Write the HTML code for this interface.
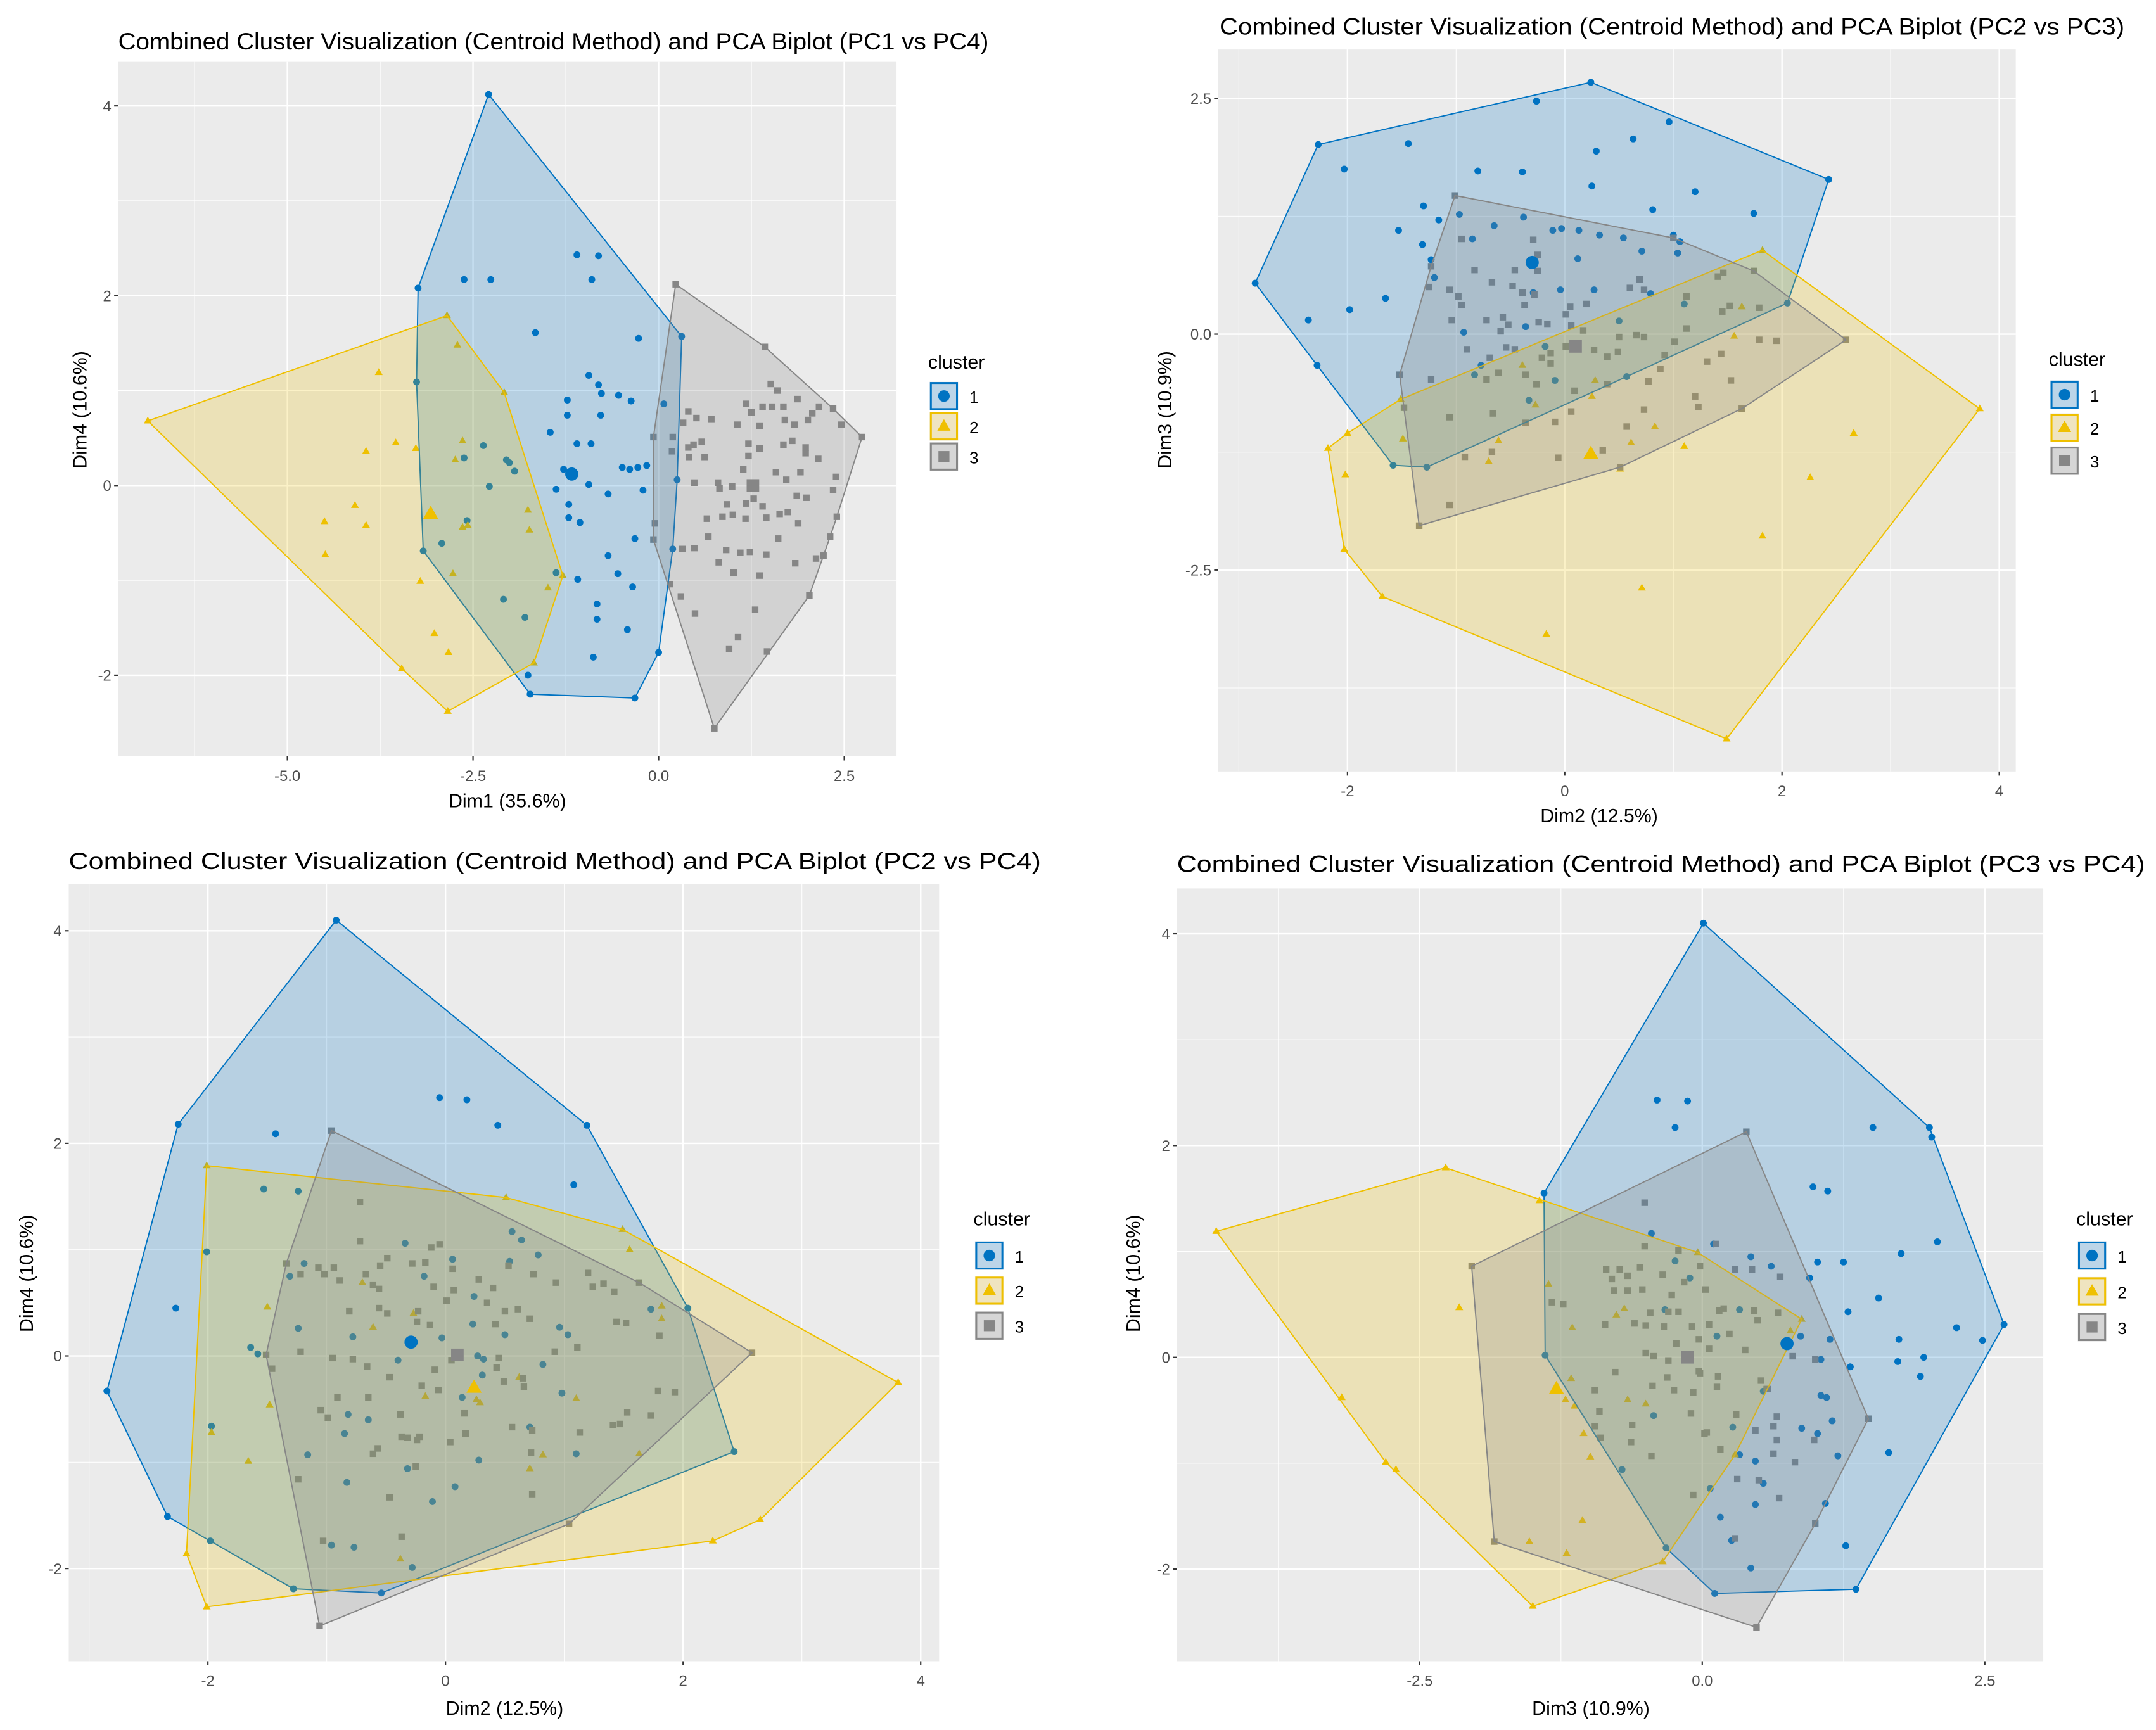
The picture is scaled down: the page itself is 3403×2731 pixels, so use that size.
<!DOCTYPE html>
<html><head><meta charset="utf-8"><style>
html,body{margin:0;padding:0;background:#fff;}
svg{display:block;font-family:"Liberation Sans",Arial,sans-serif;}
</style></head><body>
<svg id="chart" width="3403" height="2731" viewBox="0 0 1568 1258" preserveAspectRatio="none" xmlns="http://www.w3.org/2000/svg"></svg>
<script>
// ---------- Panel 1: PC1 vs PC4 ----------
const p1Titles = ["Combined Cluster Visualization (Centroid Method) and PCA Biplot (PC1 vs PC4)"];
const p1XTicks = [-5, -2.5, 0, 2.5];
const p1XTickLabels = ["-5.0", "-2.5", "0.0", "2.5"];
const p1YTicks = [-2, 0, 2, 4];
const p1YTickLabels = ["-2", "0", "2", "4"];
const p1Blue = [[-2.29,4.12],[-3.24,2.08],[-2.62,2.17],[-2.26,2.17],[-1.10,2.43],[-0.81,2.42],[-0.90,2.17],[-1.66,1.61],[-0.27,1.55],[0.31,1.57],[-0.94,1.16],[-0.81,1.06],[-0.77,0.97],[-1.23,0.90],[-0.54,0.95],[-0.37,0.89],[0.07,0.86],[-1.23,0.74],[-0.78,0.74],[-3.26,1.09],[-1.46,0.56],[-1.10,0.44],[-0.91,0.44],[-2.36,0.42],[-2.62,0.29],[-2.05,0.27],[-2.01,0.24],[-1.94,0.15],[-1.28,0.17],[-0.49,0.19],[-0.39,0.17],[-0.28,0.19],[-0.16,0.21],[-0.94,0.01],[0.25,0.06],[-2.28,-0.01],[-1.38,-0.04],[-0.68,-0.09],[-0.21,-0.05],[-1.21,-0.20],[-1.21,-0.34],[-1.06,-0.39],[-2.58,-0.37],[-0.32,-0.56],[0.19,-0.67],[-3.17,-0.69],[-2.92,-0.61],[-0.68,-0.74],[-1.38,-0.92],[-0.55,-0.93],[-1.09,-0.99],[-0.35,-1.07],[-2.09,-1.20],[-0.83,-1.25],[-1.80,-1.39],[-0.83,-1.41],[-0.42,-1.52],[0.00,-1.76],[-0.88,-1.81],[-1.76,-2.00],[-1.73,-2.20],[-0.32,-2.24]];
const p1Yellow = [[-6.88,0.68],[-2.85,1.79],[-2.71,1.48],[-3.77,1.19],[-2.08,0.98],[-2.64,0.47],[-3.54,0.45],[-3.27,0.39],[-3.94,0.36],[-2.74,0.27],[-4.09,-0.21],[-4.50,-0.38],[-3.94,-0.42],[-1.76,-0.26],[-2.64,-0.44],[-2.57,-0.42],[-1.74,-0.47],[-4.49,-0.73],[-2.77,-0.93],[-1.29,-0.95],[-3.21,-1.01],[-1.49,-1.08],[-3.02,-1.56],[-2.83,-1.76],[-1.68,-1.87],[-3.46,-1.93],[-2.84,-2.38]];
const p1Gray = [[0.75,-2.56],[1.46,-1.75],[0.95,-1.72],[1.07,-1.60],[0.49,-1.35],[1.30,-1.31],[2.03,-1.16],[0.30,-1.17],[0.15,-1.04],[1.36,-0.95],[1.01,-0.92],[2.12,-0.77],[2.22,-0.74],[1.84,-0.82],[0.81,-0.81],[1.45,-0.73],[1.23,-0.70],[1.10,-0.71],[0.91,-0.68],[0.48,-0.66],[0.32,-0.67],[0.67,-0.54],[1.61,-0.56],[2.31,-0.54],[-0.05,-0.40],[1.88,-0.40],[0.65,-0.35],[0.86,-0.33],[1.17,-0.35],[1.45,-0.34],[2.40,-0.33],[1.74,-0.28],[1.63,-0.30],[1.00,-0.31],[1.40,-0.22],[0.92,-0.20],[1.18,-0.19],[1.28,-0.14],[1.99,-0.13],[1.86,-0.11],[2.35,-0.05],[1.27,-0.02],[0.80,0.03],[0.99,-0.01],[0.48,0.03],[0.82,-0.03],[1.58,0.14],[1.72,0.06],[2.39,0.09],[1.14,0.17],[1.91,0.14],[0.62,0.30],[0.41,0.30],[1.21,0.31],[1.98,0.34],[2.15,0.28],[1.36,0.39],[0.40,0.40],[0.47,0.43],[0.58,0.46],[1.21,0.44],[1.68,0.43],[1.80,0.47],[1.98,0.40],[0.18,0.36],[-0.07,0.51],[0.19,0.51],[1.06,0.64],[1.36,0.63],[1.70,0.69],[1.83,0.64],[2.46,0.64],[0.33,0.66],[0.51,0.71],[0.71,0.70],[0.40,0.78],[2.01,0.69],[2.07,0.76],[2.16,0.83],[2.35,0.81],[1.18,0.86],[1.40,0.83],[1.53,0.83],[1.25,0.77],[1.68,0.83],[1.87,0.91],[1.51,1.07],[1.60,1.00],[0.23,2.12],[1.43,1.46],[2.74,0.51],[-0.07,-0.57]];
const p1Centroids = [[-1.17,0.12],[-3.07,-0.30],[1.27,0.00]];

// ---------- Panel 2: PC2 vs PC3 ----------
const p2Titles = ["Combined Cluster Visualization (Centroid Method) and PCA Biplot (PC2 vs PC3)"];
const p2XTicks = [-2, 0, 2, 4];
const p2XTickLabels = ["-2", "0", "2", "4"];
const p2YTicks = [-2.5, 0, 2.5];
const p2YTickLabels = ["-2.5", "0.0", "2.5"];
const p2Blue = [[0.24,2.67],[-0.26,2.47],[-2.27,2.01],[-1.44,2.02],[0.96,2.25],[0.63,2.07],[0.29,1.94],[2.43,1.64],[-2.03,1.75],[-0.80,1.73],[-0.39,1.72],[0.25,1.57],[1.20,1.51],[-1.30,1.36],[0.81,1.32],[1.74,1.28],[-1.16,1.21],[-0.97,1.27],[-0.38,1.24],[-0.65,1.15],[-1.53,1.10],[-0.11,1.10],[-0.03,1.12],[0.13,1.10],[0.32,1.05],[0.54,1.02],[1.00,1.05],[-0.85,1.01],[-1.31,0.95],[1.06,0.98],[0.71,0.88],[1.04,0.86],[-1.23,0.79],[0.12,0.80],[-2.85,0.54],[-1.20,0.60],[-0.04,0.47],[0.27,0.47],[-0.29,0.44],[0.79,0.43],[-1.65,0.38],[-1.98,0.26],[1.10,0.32],[-2.36,0.15],[0.50,0.14],[-0.93,0.02],[-0.36,0.08],[-2.28,-0.33],[-0.77,-0.33],[-0.18,-0.13],[-0.83,-0.43],[-0.09,-0.49],[0.57,-0.45],[-0.33,-0.70],[-1.58,-1.39],[-1.27,-1.41],[2.05,0.33]];
const p2Yellow = [[1.82,0.89],[3.82,-0.79],[1.49,-4.29],[-1.68,-2.78],[-2.03,-2.28],[-2.18,-1.21],[-2.00,-1.05],[-2.02,-1.49],[-1.51,-0.69],[-1.49,-1.11],[1.63,0.29],[1.56,-0.02],[-0.39,-0.33],[0.28,-0.49],[0.25,-0.66],[-0.27,-0.75],[0.83,-0.98],[0.61,-1.15],[1.10,-1.19],[-0.61,-1.13],[-0.70,-1.35],[0.51,-1.43],[2.66,-1.05],[2.26,-1.52],[1.82,-2.14],[0.71,-2.69],[-0.17,-3.18]];
const p2Gray = [[-1.01,1.47],[1.00,1.02],[2.59,-0.06],[1.63,-0.79],[0.51,-1.41],[-1.34,-2.03],[-1.52,-0.43],[-1.48,-0.78],[-0.95,1.01],[-0.29,1.00],[-0.25,0.84],[-1.23,0.72],[-0.83,0.68],[-0.46,0.68],[-0.25,0.67],[-1.06,0.47],[-1.25,0.50],[-0.98,0.40],[-0.67,0.55],[-0.48,0.51],[-0.39,0.44],[-0.28,0.42],[-0.95,0.31],[-0.37,0.31],[0.05,0.29],[0.20,0.32],[0.01,0.21],[-1.04,0.15],[-0.72,0.15],[-0.57,0.18],[-0.52,0.10],[-0.24,0.13],[-0.16,0.11],[0.06,0.09],[-0.59,0.03],[-0.90,-0.16],[-0.54,-0.14],[-0.46,-0.16],[-0.69,-0.25],[-0.21,-0.25],[-0.13,-0.20],[-0.13,-0.31],[0.01,-0.13],[0.17,0.04],[0.27,-0.17],[0.39,-0.24],[0.49,-0.19],[0.50,-0.03],[0.60,0.49],[0.69,0.58],[0.73,0.47],[1.12,0.40],[1.12,0.06],[1.01,-0.08],[0.92,-0.22],[0.88,-0.37],[0.73,-0.03],[0.66,-0.01],[1.45,0.24],[1.52,0.30],[1.41,0.61],[1.46,0.65],[1.79,0.28],[1.79,-0.06],[1.95,-0.07],[1.44,-0.21],[1.31,-0.29],[1.53,-0.49],[1.20,-0.66],[1.23,-0.77],[0.73,-0.80],[0.77,-0.50],[0.57,-0.98],[0.39,-0.53],[0.09,-0.60],[0.06,-0.82],[-0.09,-0.93],[-0.06,-1.31],[0.35,-1.23],[-0.36,-0.94],[-0.66,-0.84],[-0.36,-0.43],[-0.26,-0.53],[-0.72,-0.48],[-0.61,-0.41],[-1.06,-0.88],[-1.23,-0.48],[-0.67,-1.25],[-0.92,-1.30],[-1.06,-1.81],[1.74,0.67]];
const p2Centroids = [[-0.30,0.76],[0.24,-1.27],[0.10,-0.13]];

// ---------- Panel 3: PC2 vs PC4 ----------
const p3Titles = ["Combined Cluster Visualization (Centroid Method) and PCA Biplot (PC2 vs PC4)"];
const p3XTicks = [-2, 0, 2, 4];
const p3XTickLabels = ["-2", "0", "2", "4"];
const p3YTicks = [-2, 0, 2, 4];
const p3YTickLabels = ["-2", "0", "2", "4"];
const p3Blue = [[-0.92,4.10],[-2.25,2.18],[-1.43,2.09],[-0.05,2.43],[0.18,2.41],[0.44,2.17],[1.19,2.17],[1.08,1.61],[-1.53,1.57],[-1.24,1.55],[0.56,1.17],[0.64,1.09],[-0.34,1.06],[-2.01,0.98],[0.06,0.91],[0.54,0.89],[0.78,0.95],[-1.19,0.87],[-1.31,0.75],[-0.18,0.75],[0.24,0.56],[1.73,0.44],[2.04,0.45],[-2.27,0.45],[-1.24,0.26],[0.23,0.30],[0.96,0.27],[1.03,0.20],[-0.78,0.18],[-0.03,0.17],[0.50,0.20],[-1.64,0.08],[-1.58,0.02],[0.27,0.00],[0.32,-0.03],[-0.40,-0.04],[0.82,-0.08],[0.31,-0.18],[0.14,-0.39],[0.98,-0.35],[-0.82,-0.55],[-0.65,-0.60],[-1.97,-0.66],[0.71,-0.67],[-0.85,-0.73],[-1.16,-0.93],[1.10,-0.92],[0.28,-0.98],[-0.32,-1.06],[-0.83,-1.19],[0.08,-1.23],[-0.11,-1.37],[2.43,-0.90],[-2.34,-1.51],[-1.98,-1.74],[-0.96,-1.78],[-0.77,-1.80],[-0.28,-1.99],[-1.28,-2.19],[-0.54,-2.23],[-2.85,-0.33]];
const p3Yellow = [[-2.01,1.79],[0.51,1.49],[1.49,1.19],[1.55,1.00],[3.81,-0.25],[2.65,-1.54],[2.25,-1.74],[-2.01,-2.36],[-2.18,-1.86],[-1.97,-0.72],[-1.66,-0.99],[-1.50,0.46],[-1.48,-0.46],[-0.70,0.69],[-0.61,0.27],[-0.27,0.40],[-0.17,-0.38],[0.62,-0.20],[0.26,-0.41],[0.29,-0.44],[1.82,0.47],[1.82,0.35],[1.10,-0.40],[0.82,-0.93],[0.71,-1.06],[1.63,-0.92],[-0.38,-1.91]];
const p3Gray = [[-0.96,2.12],[2.58,0.03],[1.04,-1.58],[-1.06,-2.54],[-1.51,0.01],[-1.46,-0.12],[-0.72,1.45],[-0.72,1.08],[-0.49,0.92],[-0.28,0.87],[-0.17,0.88],[-0.05,1.05],[-0.12,1.02],[0.06,0.82],[-1.34,0.87],[-1.22,0.77],[-1.07,0.83],[-0.94,0.83],[-1.02,0.77],[-0.89,0.71],[-0.67,0.77],[-0.55,0.85],[-0.61,0.67],[-0.56,0.63],[-0.10,0.65],[0.01,0.52],[0.07,0.62],[0.28,0.72],[0.40,0.64],[0.53,0.85],[0.74,0.77],[0.93,0.69],[1.20,0.78],[1.24,0.65],[1.33,0.68],[1.42,0.60],[1.63,0.69],[-0.81,0.42],[-0.56,0.45],[-0.49,0.40],[-0.23,0.42],[-0.24,0.32],[-0.13,0.29],[0.42,0.30],[0.61,0.44],[0.71,0.35],[0.35,0.50],[0.50,0.42],[1.44,0.32],[1.52,0.31],[1.80,0.19],[0.92,0.04],[1.11,0.08],[-1.22,0.04],[-0.95,-0.02],[-0.78,-0.03],[-0.66,-0.10],[-0.47,-0.20],[-0.09,-0.13],[0.05,-0.04],[0.45,-0.02],[0.49,-0.24],[0.65,-0.21],[0.66,-0.29],[0.43,-0.11],[-0.20,-0.28],[-0.06,-0.32],[-0.91,-0.39],[-0.65,-0.39],[-1.05,-0.51],[-0.99,-0.58],[-0.38,-0.55],[-0.37,-0.76],[-0.32,-0.77],[-0.24,-0.79],[-0.22,-0.76],[0.16,-0.54],[0.17,-0.73],[0.04,-0.81],[0.56,-0.67],[0.73,-0.70],[1.13,-0.72],[0.72,-0.91],[0.73,-1.30],[1.41,-0.65],[1.47,-0.64],[1.53,-0.53],[1.73,-0.56],[1.79,-0.33],[1.93,-0.34],[-0.25,-1.04],[-0.47,-1.33],[-0.37,-1.70],[-1.03,-1.74],[-1.24,-1.16],[-0.61,-0.92],[-0.57,-0.87]];
const p3Centroids = [[-0.29,0.13],[0.24,-0.30],[0.10,0.01]];

// ---------- Panel 4: PC3 vs PC4 ----------
const p4Titles = ["Combined Cluster Visualization (Centroid Method) and PCA Biplot (PC3 vs PC4)"];
const p4XTicks = [-2.5, 0, 2.5];
const p4XTickLabels = ["-2.5", "0.0", "2.5"];
const p4YTicks = [-2, 0, 2, 4];
const p4YTickLabels = ["-2", "0", "2", "4"];
const p4Blue = [[0.01,4.10],[-1.40,1.55],[-0.40,2.43],[-0.13,2.42],[-0.24,2.17],[1.51,2.17],[2.01,2.17],[2.03,2.08],[0.98,1.61],[1.11,1.57],[-0.45,1.17],[0.10,1.07],[2.08,1.09],[0.43,0.95],[1.76,0.98],[1.02,0.90],[1.25,0.90],[0.61,0.86],[-0.24,0.91],[-0.11,0.75],[0.95,0.75],[1.56,0.56],[-0.33,0.45],[0.33,0.45],[1.29,0.43],[2.67,0.31],[2.25,0.28],[2.48,0.16],[0.13,0.20],[0.87,0.20],[1.13,0.17],[1.74,0.17],[-1.39,0.02],[1.05,-0.02],[1.73,-0.04],[1.96,0.00],[1.31,-0.09],[1.93,-0.18],[0.54,-0.32],[1.05,-0.36],[1.10,-0.38],[-0.43,-0.55],[1.15,-0.60],[0.27,-0.66],[0.88,-0.67],[1.02,-0.72],[0.33,-0.92],[1.20,-0.93],[1.65,-0.90],[0.47,-0.98],[-0.71,-1.06],[0.07,-1.24],[0.54,-1.19],[1.09,-1.38],[0.47,-1.39],[0.16,-1.51],[0.26,-1.73],[1.27,-1.78],[-0.32,-1.80],[0.43,-1.99],[0.11,-2.23],[1.36,-2.19]];
const p4Yellow = [[-2.27,1.79],[-1.44,1.48],[-4.30,1.19],[-0.04,0.99],[0.88,0.36],[-1.36,0.69],[-0.69,0.46],[-0.76,0.40],[-2.15,0.47],[-1.15,0.28],[0.78,0.25],[-1.16,-0.20],[-1.21,-0.40],[-0.66,-0.40],[-0.50,-0.44],[-1.13,-0.46],[-3.19,-0.38],[-1.05,-0.72],[-0.99,-0.94],[-2.80,-0.99],[-2.71,-1.06],[-1.06,-1.54],[-1.53,-1.74],[-1.20,-1.85],[-0.35,-1.93],[-1.50,-2.35],[0.29,-0.92]];
const p4Gray = [[0.39,2.13],[-0.51,1.46],[-2.04,0.86],[1.47,-0.58],[0.48,-2.55],[-1.84,-1.74],[-0.51,1.05],[-0.21,1.01],[0.12,1.07],[0.29,0.83],[0.44,0.83],[0.69,0.76],[-0.85,0.83],[-0.73,0.83],[-0.55,0.85],[-0.02,0.86],[-0.80,0.74],[-0.66,0.77],[-0.35,0.78],[-0.16,0.71],[0.03,0.64],[-0.78,0.63],[-0.66,0.63],[-0.53,0.64],[-0.27,0.59],[-1.33,0.52],[-1.23,0.50],[-0.86,0.31],[-0.60,0.32],[-0.46,0.42],[-0.30,0.43],[-0.21,0.43],[0.15,0.44],[0.19,0.46],[0.46,0.44],[0.49,0.35],[0.67,0.42],[-0.50,0.30],[-0.34,0.29],[-0.09,0.29],[0.06,0.31],[0.24,0.22],[-0.03,0.17],[-0.23,0.13],[0.06,0.08],[0.38,0.07],[-0.50,0.04],[-0.43,0.01],[-0.30,-0.03],[-0.03,-0.13],[-0.77,-0.14],[-0.02,-0.15],[-0.31,-0.19],[0.14,-0.18],[-0.44,-0.27],[-0.95,-0.31],[-0.25,-0.31],[-0.08,-0.33],[0.13,-0.28],[0.52,-0.22],[0.58,-0.30],[-0.95,-0.65],[-0.91,-0.51],[-0.90,-0.76],[-0.63,-0.80],[-0.45,-0.93],[-0.10,-0.53],[0.02,-0.72],[0.04,-0.71],[0.16,-0.87],[0.30,-0.54],[0.47,-0.69],[0.63,-0.65],[0.66,-0.56],[0.66,-0.78],[0.63,-0.91],[0.82,-0.99],[0.99,-0.78],[1.00,-0.02],[0.80,0.01],[0.57,-0.30],[0.31,-1.15],[0.50,-1.16],[0.68,-1.33],[-0.08,-1.30],[1.00,-1.57],[0.29,-1.71],[-0.62,-0.64]];
const p4Centroids = [[0.75,0.13],[-1.29,-0.30],[-0.13,0.00]];

const clusterLabels = ["1", "2", "3"];

const NS = "http://www.w3.org/2000/svg";
const svg = document.getElementById('chart');
const COLORS = ["#0073C2", "#EFC000", "#868686"];
const FILLS = ["rgba(0,115,194,0.22)", "rgba(239,192,0,0.22)", "rgba(134,134,134,0.25)"];
const KEYFILLS = ["#bcd5e8", "#efe4c0", "#d6d6d6"];

function mk(tag, attrs, parent) {
  const e = document.createElementNS(NS, tag);
  for (const k in attrs) e.setAttribute(k, attrs[k]);
  (parent || svg).appendChild(e);
  return e;
}
function hull(pts) {
  const p = pts.slice().sort((a, b) => a[0] - b[0] || a[1] - b[1]);
  const cross = (o, a, b) => (a[0]-o[0])*(b[1]-o[1]) - (a[1]-o[1])*(b[0]-o[0]);
  const lo = [], up = [];
  for (const q of p) { while (lo.length >= 2 && cross(lo[lo.length-2], lo[lo.length-1], q) <= 0) lo.pop(); lo.push(q); }
  for (let i = p.length - 1; i >= 0; i--) { const q = p[i]; while (up.length >= 2 && cross(up[up.length-2], up[up.length-1], q) <= 0) up.pop(); up.push(q); }
  up.pop(); lo.pop();
  return lo.concat(up);
}
function shape(g, k, x, y, s, name) {
  let e;
  if (k === 0) e = mk('circle', {cx: x, cy: y, r: s, fill: COLORS[0]}, g);
  else if (k === 1) e = mk('polygon', {points: `${x},${y - s*1.25} ${x - s*1.15},${y + s*0.75} ${x + s*1.15},${y + s*0.75}`, fill: COLORS[1]}, g);
  else e = mk('rect', {x: x - s*0.95, y: y - s*0.95, width: s*1.9, height: s*1.9, fill: COLORS[2]}, g);
  
  
  return e;
}

function drawPanel(cfg) {
  const g = mk('g', {});
  
  
  const X = v => cfg.x0 + cfg.kx * v;
  const Y = v => cfg.y0 - cfg.ky * v;
  const r = cfg.rect;
  const bg = mk('rect', {x: r[0], y: r[1], width: r[2]-r[0], height: r[3]-r[1], fill: '#EBEBEB'}, g);
  
  
  const clipId = cfg.name + '-clip';
  const cp = mk('clipPath', {id: clipId}, g);
  mk('rect', {x: r[0], y: r[1], width: r[2]-r[0], height: r[3]-r[1]}, cp);
  const grid = mk('g', {}, g);
  
  
  const xs = cfg.xTicks, ys = cfg.yTicks;
  const xStep = xs[1] - xs[0], yStep = ys[1] - ys[0];
  for (let v = xs[0] - xStep*3; v <= xs[xs.length-1] + xStep*3; v += xStep) {
    const xm = X(v + xStep/2);
    if (xm > r[0] && xm < r[2]) mk('line', {x1: xm, x2: xm, y1: r[1], y2: r[3], stroke: '#fff', 'stroke-width': 0.5}, grid);
  }
  for (let v = ys[0] - yStep*3; v <= ys[ys.length-1] + yStep*3; v += yStep) {
    const ym = Y(v + yStep/2);
    if (ym > r[1] && ym < r[3]) mk('line', {y1: ym, y2: ym, x1: r[0], x2: r[2], stroke: '#fff', 'stroke-width': 0.5}, grid);
  }
  xs.forEach((v, i) => {
    mk('line', {x1: X(v), x2: X(v), y1: r[1], y2: r[3], stroke: '#fff', 'stroke-width': 1.1}, grid);
    mk('line', {x1: X(v), x2: X(v), y1: r[3], y2: r[3] + 3, stroke: '#333', 'stroke-width': 1}, g);
    const t = mk('text', {x: X(v), y: r[3] + 18, 'text-anchor': 'middle', 'font-size': 11, fill: '#4D4D4D'}, g);
    t.textContent = cfg.xTickLabels[i];
    
    
  });
  ys.forEach((v, i) => {
    mk('line', {y1: Y(v), y2: Y(v), x1: r[0], x2: r[2], stroke: '#fff', 'stroke-width': 1.1}, grid);
    mk('line', {y1: Y(v), y2: Y(v), x1: r[0] - 3, x2: r[0], stroke: '#333', 'stroke-width': 1}, g);
    const t = mk('text', {x: r[0] - 5, y: Y(v) + 4, 'text-anchor': 'end', 'font-size': 11, fill: '#4D4D4D'}, g);
    t.textContent = cfg.yTickLabels[i];
    
    
  });
  const plot = mk('g', {'clip-path': `url(#${clipId})`}, g);
  const series = [cfg.blue, cfg.yellow, cfg.gray];
  series.forEach((pts, k) => {
    const sg = mk('g', {}, plot);
    
    
    pts.forEach(p => shape(sg, k, X(p[0]), Y(p[1]), 2.5, 'point'));
  });
  series.forEach((pts, k) => {
    const h = hull(pts.concat([cfg.centroids[k]]));
    const poly = mk('polygon', {points: h.map(p => X(p[0]) + ',' + Y(p[1])).join(' '), fill: FILLS[k], stroke: COLORS[k], 'stroke-width': 0.9, 'stroke-linejoin': 'round'}, plot);
    
    
  });
  cfg.centroids.forEach((p, k) => shape(plot, k, X(p[0]), Y(p[1]), 4.8, 'centroid-' + (k+1)));
  const title = mk('text', {x: cfg.title[0], y: cfg.title[1], 'font-size': 17, fill: '#000', textLength: cfg.title[2], lengthAdjust: 'spacingAndGlyphs'}, g);
  title.textContent = cfg.titleText;
  
  
  const xt = mk('text', {x: cfg.xTitle[0], y: cfg.xTitle[1], 'text-anchor': 'middle', 'font-size': 14, fill: '#000'}, g);
  xt.textContent = cfg.xTitleText;
  
  
  const yt = mk('text', {x: 0, y: 0, 'text-anchor': 'middle', 'font-size': 14, fill: '#000', transform: `translate(${cfg.yTitle[0]},${cfg.yTitle[1]}) rotate(-90)`}, g);
  yt.textContent = cfg.yTitleText;
  
  
  const lg = mk('g', {}, g);
  
  
  const L = cfg.legend;
  const lt = mk('text', {x: L[0], y: L[1], 'font-size': 14, fill: '#000'}, lg);
  lt.textContent = 'cluster';
  
  
  clusterLabels.forEach((lab, k) => {
    const cy = L[2] + k * L[3];
    const e = mk('g', {}, lg);
    
    
    mk('rect', {x: L[0] + 1, y: cy - 10.5, width: 21, height: 21, fill: '#f2f2f2'}, e);
    mk('rect', {x: L[0] + 2, y: cy - 9.5, width: 19, height: 19, fill: KEYFILLS[k], stroke: COLORS[k], 'stroke-width': 1.4}, e);
    shape(e, k, L[0] + 11.5, cy, 4.2, 'legend-key-' + lab);
    const tx = mk('text', {x: L[0] + 30, y: cy + 5, 'font-size': 12, fill: '#000'}, e);
    tx.textContent = lab;
    
    
  });
}

drawPanel({name: 'panel-pc1-pc4', rect: [86,45,652,550], x0: 479, kx: 54, y0: 353, ky: 69,
  xTicks: p1XTicks, xTickLabels: p1XTickLabels, yTicks: p1YTicks, yTickLabels: p1YTickLabels,
  blue: p1Blue, yellow: p1Yellow, gray: p1Gray, centroids: p1Centroids,
  titleText: p1Titles[0], title: [86,36,633], xTitleText: 'Dim1 (35.6%)', xTitle: [369,587], yTitleText: 'Dim4 (10.6%)', yTitle: [63,298],
  legend: [675,268,288,22]});
drawPanel({name: 'panel-pc2-pc3', rect: [886,36,1466,561], x0: 1138, kx: 79, y0: 243, ky: 68.6,
  xTicks: p2XTicks, xTickLabels: p2XTickLabels, yTicks: p2YTicks, yTickLabels: p2YTickLabels,
  blue: p2Blue, yellow: p2Yellow, gray: p2Gray, centroids: p2Centroids,
  titleText: p2Titles[0], title: [887,25,658], xTitleText: 'Dim2 (12.5%)', xTitle: [1163,598], yTitleText: 'Dim3 (10.9%)', yTitle: [852,298],
  legend: [1490,266,287,24]});
drawPanel({name: 'panel-pc2-pc4', rect: [50,643,683,1208], x0: 324, kx: 86.4, y0: 986, ky: 77.3,
  xTicks: p3XTicks, xTickLabels: p3XTickLabels, yTicks: p3YTicks, yTickLabels: p3YTickLabels,
  blue: p3Blue, yellow: p3Yellow, gray: p3Gray, centroids: p3Centroids,
  titleText: p3Titles[0], title: [50,632,707], xTitleText: 'Dim2 (12.5%)', xTitle: [367,1247], yTitleText: 'Dim4 (10.6%)', yTitle: [24,926],
  legend: [708,891,913,25.5]});
drawPanel({name: 'panel-pc3-pc4', rect: [856,646,1486,1208], x0: 1238, kx: 82.2, y0: 987, ky: 77,
  xTicks: p4XTicks, xTickLabels: p4XTickLabels, yTicks: p4YTicks, yTickLabels: p4YTickLabels,
  blue: p4Blue, yellow: p4Yellow, gray: p4Gray, centroids: p4Centroids,
  titleText: p4Titles[0], title: [856,634,704], xTitleText: 'Dim3 (10.9%)', xTitle: [1157,1247], yTitleText: 'Dim4 (10.6%)', yTitle: [829,926],
  legend: [1510,891,913,26]});
</script>
</body></html>
